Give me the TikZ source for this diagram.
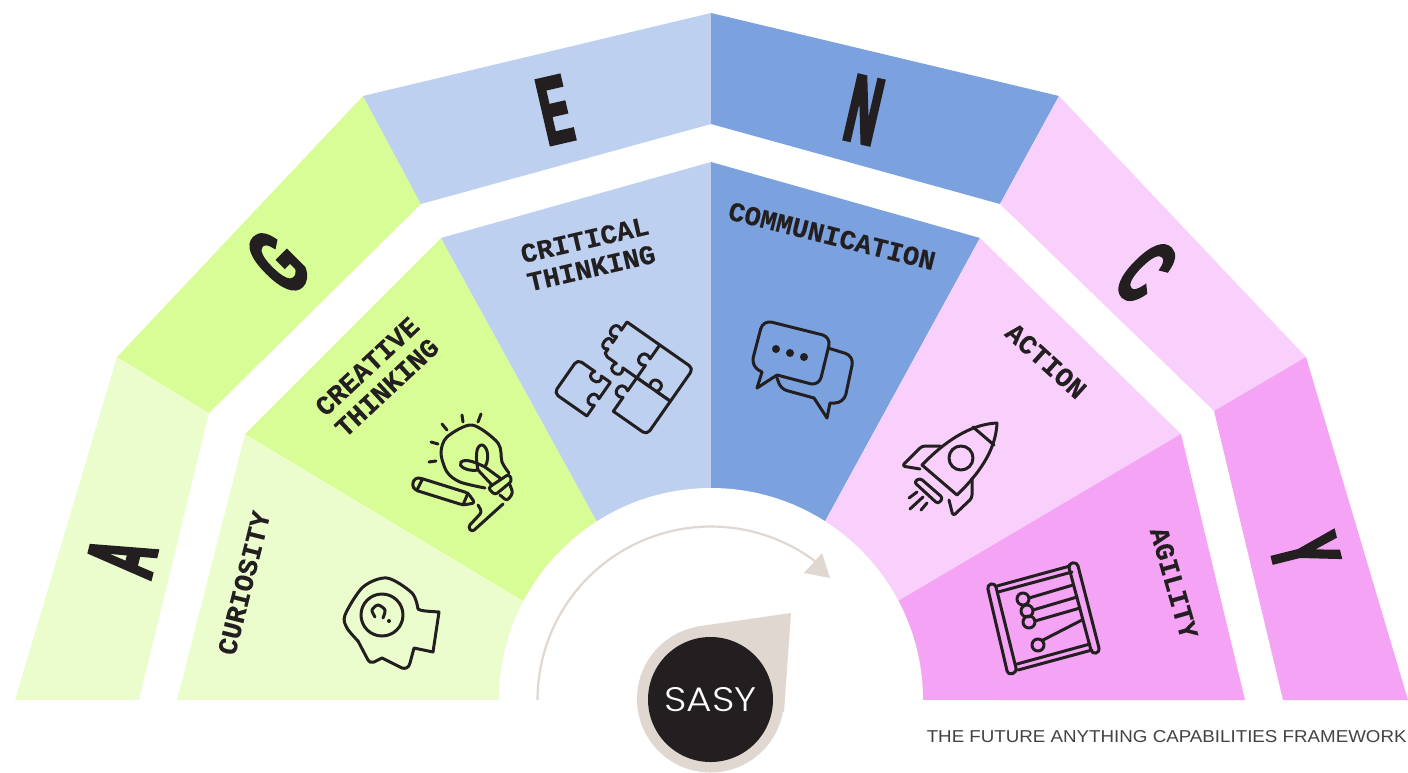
\documentclass[tikz,border=0pt]{standalone}
\usepackage{fontspec}
\setmainfont{Liberation Sans}
\newfontfamily\bigfont[FakeStretch=0.46,FakeBold=3]{Liberation Sans Bold}
\newfontfamily\monofont[FakeBold=0.3]{Liberation Mono Bold}
\newfontfamily\logofont[FakeStretch=1.15]{Poppins Light}
\newfontfamily\footfont[FakeStretch=1.09]{Liberation Sans}
\definecolor{agreenl}{HTML}{EBFDCD}
\definecolor{agreen}{HTML}{D8FD96}
\definecolor{ablue}{HTML}{BDD0EF}
\definecolor{abluedk}{HTML}{7BA2DF}
\definecolor{apink}{HTML}{F8D0FB}
\definecolor{apinkdk}{HTML}{F4A3F5}
\definecolor{asand}{HTML}{DFD7D0}
\definecolor{ink}{HTML}{231F20}
\tikzset{
  bigletter/.style={inner sep=0pt,text=ink,font=\bigfont\fontsize{48}{48}\selectfont},
  lbl/.style={inner sep=0pt,text=ink,align=center,font=\monofont\fontsize{13.6}{14.5}\selectfont},
  ico/.style={draw=ink,line width=1.5pt,line cap=round,line join=round},
}
\def\knobV#1#2#3{-- (#1,#2-4) .. controls (#1-#3,#2-12) and (#1-#3,#2+12) .. (#1,#2+4)}
\def\knobH#1#2#3{-- (#1-4,#2) .. controls (#1-12,#2-#3) and (#1+12,#2-#3) .. (#1+4,#2)}
\begin{document}
\begin{tikzpicture}[x=0.5pt,y=-0.5pt]
\useasboundingbox (0,0) rectangle (1408,772);
% outer band
\fill[agreenl] (117,357) -- (209,413) -- (139,700) -- (15,700) -- cycle;
\fill[agreen] (363,96) -- (421,204) -- (209,413) -- (117,357) -- cycle;
\fill[ablue] (711,13) -- (711,124) -- (421,204) -- (363,96) -- cycle;
\fill[abluedk] (711,13) -- (1059,96) -- (1000,204) -- (711,124) -- cycle;
\fill[apink] (1059,96) -- (1306,357) -- (1214,411) -- (1000,204) -- cycle;
\fill[apinkdk] (1306,357) -- (1408,700) -- (1283,700) -- (1214,411) -- cycle;
% inner band
\fill[agreenl] (245,434) -- (600,647) -- (600,700) -- (177,700) -- cycle;
\fill[agreen] (441,238) -- (640,600) -- (600,647) -- (245,434) -- cycle;
\fill[ablue] (711,162) -- (711,600) -- (640,600) -- (441,238) -- cycle;
\fill[abluedk] (711,162) -- (980,238) -- (782,600) -- (711,600) -- cycle;
\fill[apink] (980,238) -- (1181,434) -- (820,647) -- (782,600) -- cycle;
\fill[apinkdk] (1181,434) -- (1245,700) -- (820,700) -- (820,647) -- cycle;
\fill[white] (711,700) circle[radius=106pt];
\fill[white] (400,700) rectangle (1000,772);
% arc arrow
\draw[asand,line width=1.1pt] plot[domain=180:53,samples=60] ({711+173.5*cos(\x)},{700-173.5*sin(\x)});
\fill[asand] (822,553) -- (830,578) -- (804,573) -- cycle;
% drop and logo
\fill[asand] (710.5,699) circle[radius=36.75pt];
\fill[asand] (791,613) -- (697,626.5) -- (784,712) -- cycle;
\node[circle,fill=ink,minimum size=62.5pt,inner sep=0pt,text=white,font=\logofont\fontsize{17}{17}\selectfont] (logo) at (710.5,699.5) {SASY};
% big letters
\node[bigletter,rotate=76] (la) at (122,557) {A};
\node[bigletter,rotate=45] (lg) at (278,262) {G};
\node[bigletter,rotate=13] (le) at (555,110) {E};
\node[bigletter,rotate=-13] (ln) at (864,110) {N};
\node[bigletter,rotate=-45] (lc) at (1146,272) {C};
\node[bigletter,rotate=-76] (ly) at (1305,552) {Y};
% captions
\node[lbl,rotate=76] (cur) at (244,583) {CURIOSITY};
\node[lbl,rotate=43] (cre) at (377,377) {CREATIVE\\THINKING};
\node[lbl,rotate=13] (cri) at (588,254) {CRITICAL\\THINKING};
\node[lbl,rotate=-14] (com) at (832,236) {COMMUNICATION};
\node[lbl,rotate=-42] (act) at (1046,361) {ACTION};
\node[lbl,rotate=-74] (agi) at (1174,583) {AGILITY};
\node[inner sep=0pt,anchor=east,text=ink!85,font=\footfont\fontsize{8.6}{10}\selectfont] (foot) at (1407,737) {THE FUTURE ANYTHING CAPABILITIES FRAMEWORK};
% head icon
\draw[ico] plot[smooth] coordinates {(418,609) (412,593) (387,578) (363,587) (345,615) (347,628) (358,641)};
\draw[ico] (418,609) .. controls (421,611) and (425,611) .. (439,612) -- (433,652) -- (414,648) -- (410,663) .. controls (409,668) and (405,669) .. (402,668) -- (382,658) -- (374,662) .. controls (371,663) and (369,662) .. (368,660) -- (358,641);
\draw[ico] (382,615) circle[radius=21];
\draw[ico] plot[smooth] coordinates {(375,617) (372,610) (378,605) (385,610) (383,618)};
\fill[ink] (389,621) circle[radius=2];
% bulb icon
\draw[ico] plot[smooth] coordinates {(509,473) (502,462) (498,443) (472,425) (447,437) (441,453) (447,472) (460,482) (485,488)};
\draw[ico,rounded corners=1.5pt] (488,488) -- (509,474) -- (512,481) -- (495,495) -- cycle;
\draw[ico,rounded corners=1.5pt] (500,495) -- (507,501) -- (513,493) -- (510,485);
\draw[ico] (492,485) -- (478,470) .. controls (468,472) and (457,466) .. (461,462) .. controls (466,458) and (477,463) .. (485,467) .. controls (491,456) and (486,444) .. (481,445) .. controls (475,447) and (476,460) .. (478,470);
\draw[ico] (485,467) -- (500,478);
\draw[ico] (462,415) -- (463,422) (481,414) -- (478,422) (442,424) -- (447,430) (431,442) -- (438,444) (429,462) -- (436,461);
\draw[ico,rounded corners=1.5pt] (420,478) -- (468,493) -- (475,503) -- (463,505) -- (415,490) -- (412,485) -- (415,478) -- cycle;
\draw[ico] (422,480) -- (417,490) (468,493) -- (463,505);
\draw[ico,rounded corners=1.5pt] (478,505) -- (482,512) -- (468,527) -- (472,532) -- (503,504);
% puzzle icon
\begin{scope}[shift={(627,322)},rotate=-35]
\draw[ico,rounded corners=2.5pt] (0,0) -- (81,0) -- (81,81) -- (40,81);
\draw[ico] (40,81) -- (40,74);
\draw[ico] (0,0) \knobV{0}{14}{12} -- (0,22) \knobV{0}{29}{10} -- (0,38) -- (4,40);
\draw[ico] (4,40) \knobH{19}{40}{-12} -- (81,40);
\draw[ico] (40,0) \knobV{40}{21}{13} -- (40,40) \knobV{40}{60}{13} -- (40,74);
\draw[ico] (40,40) \knobH{60}{40}{13} -- (81,40);
\draw[ico] (0,59) \knobH{6}{59}{-11} -- (21,59) -- (21,76);
\draw[ico] (21,76) \knobV{21}{83}{12} -- (21,100);
\draw[ico,rounded corners=2.5pt] (21,100) -- (-19,100) -- (-19,59) -- (0,59);
\end{scope}
% chat icon
\draw[ico] (757,388) -- (762,372);
\draw[ico,rounded corners=4.5pt] (762,372) -- (751,366) -- (763,320) -- (831,337) -- (819,386) -- (777,375);
\draw[ico] (777,375) -- (757,388);
\fill[ink] (776,349) circle[radius=4] (790,353) circle[radius=4] (804,357) circle[radius=4];
\draw[ico,rounded corners=4.5pt] (828,348) -- (854,356) -- (844,403) -- (830,403);
\draw[ico] (830,403) -- (827,418) -- (814,398);
\draw[ico,rounded corners=3pt] (814,398) -- (781,389) -- (777,378);
% rocket icon
\draw[ico] (997,423) .. controls (975,424) and (950,436) .. (922,465) -- (957,495) .. controls (985,468) and (996,445) .. (997,423) -- cycle;
\draw[ico] (973,427) -- (994,445);
\draw[ico] (961,458) circle[radius=12];
\draw[ico,rounded corners=1.5pt] (940,446) -- (922,446) -- (902,466) -- (920,469);
\draw[ico,rounded corners=1.5pt] (972,478) -- (972,498) -- (953,516) -- (949,500);
\draw[ico,rounded corners=1.5pt] (914,482) -- (920,478) -- (943,498) -- (938,504) -- cycle;
\draw[ico] (909,498) -- (917,492) (910,509) -- (923,497) (921,510) -- (927,503);
% abacus icon
\draw[ico,rounded corners=2pt] (987,585) -- (995,583) -- (1017,672) -- (1008,675) -- cycle;
\draw[ico,rounded corners=2pt] (1068,564) -- (1077,562) -- (1100,652) -- (1092,654) -- cycle;
\draw[ico] (997,586) -- (1070,566) (998,592) -- (1072,572) (1017,664) -- (1090,644) (1018,670) -- (1092,650);
\draw[ico] (1029,598) -- (1073,585) (1033,610) -- (1077,597) (1035,621) -- (1080,608) (1043,640) -- (1082,620);
\draw[ico] (1023,599) circle[radius=6] (1027,611) circle[radius=6] (1029,622) circle[radius=6] (1038,645) circle[radius=6];
\end{tikzpicture}
\end{document}
